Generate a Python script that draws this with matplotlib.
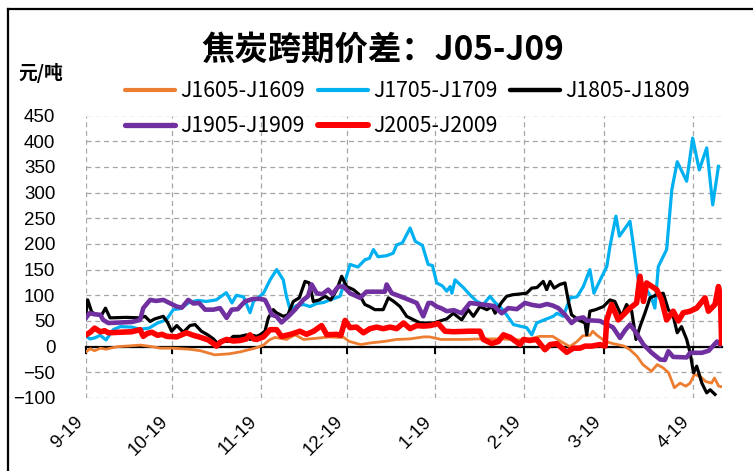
import matplotlib
matplotlib.use("Agg")
import matplotlib.pyplot as plt
import numpy as np
import pandas as pd
from matplotlib.lines import Line2D
from matplotlib.font_manager import FontProperties

# x values are day offsets from 9-19
START = pd.Timestamp("2018-09-19")
END_DAY = 222

tick_labels = ["9-19", "10-19", "11-19", "12-19", "1-19", "2-19", "3-19", "4-19"]
y_ticks = list(range(-100, 451, 50))

j1605_days = [0, 1.5, 3, 5, 7, 11, 14, 19, 23, 26, 30, 36, 40, 45, 50, 54, 59, 62, 64, 66,
              70, 73, 76, 80, 85, 88, 90, 92, 96, 99, 104, 108.5, 113, 118, 120, 124, 131,
              138, 145, 152, 155, 158.5, 163, 166.5, 169, 171.5, 173.5, 176, 177, 178.5,
              181.5, 184, 188, 190, 192.5, 194.5, 197.5, 199.5, 201.5, 203.5, 205.5, 207.5,
              209.5, 211, 212.5, 214.5, 216.5, 218.5, 219.5, 221, 222]
j1605_vals = [-10, -4, -8, -3, -5, 0, 1, 3, 0, -3, -3, -5, -8, -16, -14, -10, -3, 3, 13, 18,
              14, 23, 14, 16, 19, 18, 18, 10, 4, 7, 10, 14, 15, 19, 19, 14, 14,
              15, 15, 13, 15, 20, 20, 8, 0, 10, 21, 22, 30, 22,
              10, 6, 1, -6, -19, -35, -48, -35, -41, -51, -80, -71,
              -77, -71, -54, -58, -68, -71, -61, -77, -78]

j1705_days = [0, 1.5, 3, 5, 7, 9.5, 12, 16, 19, 22, 25, 28, 30.5, 33, 36, 39, 42, 45.5, 49, 51,
              52.5, 55, 57.3, 58.5, 60, 62, 64.3, 66.6, 68.9, 70, 71.3, 73.6, 76, 78.2, 80.6,
              83, 85.2, 88.7, 91, 92.2, 95, 97.4, 99, 100.4, 102, 105, 107.3, 108.5, 110.5,
              113.2, 115, 117.5, 119.5, 121, 122.5, 124.5, 126, 127.2, 127.8, 128.9, 131.8,
              134.1, 136.5, 138.8, 141.1, 143, 144.6, 146.9, 149.3, 151.5, 153.9, 155.7,
              157.4, 160, 163.2, 164.5, 166.7, 169.1, 171.5, 173.7, 176, 177.4, 179, 181.9,
              183, 185.1, 186.3, 190, 191, 192.3, 193.5, 194.7, 195.8, 197.5, 198.7, 199.9,
              202.8, 204.6, 206.5, 209.8, 211.9, 214.2, 216.8, 218.9, 220.9]
j1705_vals = [20, 15, 17, 22, 13, 33, 39, 38, 34, 36, 46, 52, 72, 74, 86, 90, 88, 91, 105, 85,
              100, 97, 66, 88, 95, 104, 130, 150, 130, 98, 72, 80, 82, 78, 84,
              86, 91, 98, 137, 160, 155, 169, 172, 189, 175, 177, 182, 198, 202,
              231, 205, 197, 160, 158, 124, 118, 108, 117, 104, 130, 115,
              101, 88, 82, 98, 85, 78, 62, 43, 40, 37, 23,
              46, 52, 59, 65, 59, 95, 97, 117, 150, 104, 123, 156,
              195, 254, 215, 244, 205, 150, 111, 98, 111, 95, 75, 156,
              189, 305, 360, 322, 406, 344, 387, 276, 351]

j1805_days = [0, 0.6, 2, 4, 5.5, 6.8, 8.4, 14, 18.9, 20.6, 22.4, 24, 27, 28.5, 29.9, 31.7, 34,
              36.3, 38.1, 40.3, 42.5, 44.5, 45.8, 47.5, 49.5, 51.4, 53.8, 56.1, 57.3, 58.4,
              59.5, 60.8, 62.5, 63.7, 65.4, 66.5, 68.9, 70.5, 72.4, 74.5, 76.5, 78, 79.4,
              81.5, 83.5, 85.5, 87.6, 89.3, 91, 93.4, 95.5, 97.4, 99, 100.9, 103.8, 105.6,
              107.5, 109.7, 112, 114.5, 116.7, 121.3, 126, 128.3, 131.2, 133.5, 135.3, 137.6,
              140, 141.8, 142.9, 145, 146.9, 149, 153.9, 155.7, 157.5, 159.7, 160.9, 162.1,
              163.5, 165.5, 167.3, 168.5, 169.6, 172, 174.3, 174.9, 176, 178, 180.7, 183,
              184.7, 187.1, 188.8, 190.6, 192.1, 193.5, 195.2, 197, 199.3, 201.6, 203.4, 205,
              206.5, 208, 209.8, 211, 212.2, 213.3, 215.1, 216.8, 218, 219.7]
j1805_vals = [65, 91, 67, 62, 62, 75, 56, 57, 56, 59, 49, 54, 59, 47, 30, 41, 28,
              41, 43, 30, 23, 15, 7, 12, 10, 20, 20, 23, 14, 22,
              20, 23, 30, 56, 72, 66, 59, 62, 88, 95, 127, 124, 88,
              91, 98, 91, 111, 137, 117, 111, 101, 82, 78, 72, 72, 95,
              88, 78, 59, 52, 46, 46, 54, 65, 52, 72, 59, 78,
              72, 78, 65, 85, 98, 101, 104, 114, 115, 127, 111, 127,
              114, 121, 124, 88, 62, 52, 46, 23, 69, 72, 78, 91,
              88, 59, 82, 69, 14, 39, 65, 95, 101, 104, 72, 62,
              27, 39, 14, -12, -51, -38, -71, -90, -84, -93]

j1905_days = [0, 1.2, 3, 5, 6, 7.8, 12, 16, 18.9, 20, 22.4, 24.5, 27, 29.5, 31.7, 33.5, 35.7,
              37.5, 39.5, 41.6, 44.5, 46.8, 49.1, 50.9, 53, 55.5, 58.4, 60.8, 62.5, 63.7,
              64.9, 66.5, 68.3, 70.7, 73, 75.9, 77.5, 78.8, 80.6, 82.5, 84.6, 86, 88.1, 89.9,
              92.2, 95.7, 98, 102, 104.4, 105, 106.8, 109.7, 112, 115.5, 117.8, 119.6, 120.7,
              122.5, 124, 126, 128.5, 131.2, 134.1, 137, 140, 142.5, 145.2, 147.5, 150.5,
              153.3, 156, 158.5, 161, 163, 165, 167.3, 169.6, 171.3, 173.7, 175, 176.6, 179.5,
              181.9, 184, 186.5, 188.3, 190, 191.8, 194.7, 197.6, 200.5, 202.2, 203.4, 205.1,
              209.8, 211, 215.1, 217.5, 220.4, 221.5]
j1905_vals = [56, 65, 63, 62, 52, 46, 47, 48, 52, 75, 91, 89, 91, 84, 78, 76, 91,
              84, 85, 72, 72, 75, 56, 72, 73, 88, 93, 93, 91, 78,
              62, 59, 47, 59, 72, 91, 98, 121, 104, 102, 111, 102, 117, 117,
              104, 95, 107, 107, 107, 121, 104, 98, 93, 85, 59, 85, 85,
              78, 75, 69, 71, 65, 85, 83, 81, 79, 65, 75, 73,
              85, 81, 79, 83, 80, 75, 62, 46, 54, 57, 50, 51, 50,
              43, 38, 17, 32, 43, 30, 4, -12, -25, -26, -9, -20,
              -21, -12, -12, -8, 10, 4]

j2005_days = [0, 1.5, 3, 5, 6.5, 7.8, 12, 16, 18.9, 20, 21.5, 23, 25, 26.5, 28.2, 31.7, 35.1,
              37.5, 39.5, 42.7, 44.5, 45.6, 47, 49.1, 51.4, 53.8, 56, 57.3, 58.5, 59.6, 62,
              64.3, 66.6, 68.3, 71.5, 74.7, 77, 79.5, 82.3, 84.1, 87.5, 89, 90.5, 92.2, 94.5,
              96.9, 99.2, 101.5, 103.8, 106.2, 108.5, 110.9, 113.2, 115.5, 117.8, 120.2, 123,
              125.4, 128.3, 134, 137.6, 138.8, 141.7, 144, 145.8, 148.2, 151.6, 152.8, 155,
              157.4, 160.3, 162.1, 164.4, 167.9, 170.2, 172.5, 174.3, 176.6, 179.5, 181.3,
              181.9, 183.6, 185.9, 187.7, 190, 192.3, 193.5, 194.7, 195.8, 199.3, 201, 202.8,
              205.1, 206.9, 208.6, 211, 213.3, 216.2, 217.4, 219.7, 220.9, 221.6, 222]
j2005_vals = [23, 28, 36, 29, 31, 27, 28, 29, 33, 20, 26, 28, 22, 24, 20, 19, 27,
              22, 19, 13, 6, 1, 9, 14, 11, 12, 15, 23, 15, 14, 19,
              33, 33, 20, 24, 30, 24, 30, 41, 23, 24, 22, 51, 37, 38,
              27, 35, 38, 35, 38, 35, 46, 35, 41, 40, 41, 45,
              30, 29, 30, 30, 14, 6, 10, 23, 18, 4, 14, 12,
              14, -6, 4, 6, -11, -3, -3, 1, 1, 4, 1,
              52, 82, 52, 62, 75, 85, 137, 88, 124, 111, 92, 52,
              69, 50, 66, 69, 75, 95, 69, 82, 117, 98, 7]

# name, days, values, colour, plot width, legend width
series = [
    ("J1605-J1609", j1605_days, j1605_vals, "#ED7D31", 2.0, 3.0),
    ("J1705-J1709", j1705_days, j1705_vals, "#00B0F0", 2.3, 3.0),
    ("J1805-J1809", j1805_days, j1805_vals, "#000000", 2.3, 3.2),
    ("J1905-J1909", j1905_days, j1905_vals, "#7030A0", 3.3, 3.8),
    ("J2005-J2009", j2005_days, j2005_vals, "#FF0000", 4.0, 4.3),
]


def to_dates(days):
    return (START + pd.to_timedelta(np.asarray(days, dtype=float), unit="D")).to_numpy()


fig = plt.figure(figsize=(7.53, 4.71), dpi=100)
ax = fig.add_axes([86 / 753, 1 - 398 / 471, 635.6 / 753, (398 - 115.5) / 471])

handles = {}
for name, d, v, c, lw, lw_leg in series:
    ax.plot(to_dates(d), v, color=c, linewidth=lw, solid_joinstyle="round")
    handles[name] = Line2D([], [], color=c, linewidth=lw_leg, solid_capstyle="round")

ax.set_xlim(to_dates([0])[0], to_dates([END_DAY])[0])
ax.set_ylim(-100, 450)
ax.set_yticks(y_ticks)
ax.set_yticklabels([f"{t}".replace("-", "\u2212") for t in y_ticks])
month_ticks = pd.date_range(START, periods=len(tick_labels), freq=pd.DateOffset(months=1))
ax.set_xticks(month_ticks.to_numpy())
ax.set_xticklabels(tick_labels)

ax.grid(True, color="#a6a6a6", linestyle=(0, (4, 3)), linewidth=0.9)
ax.set_axisbelow(True)
for s in ("left", "top", "right"):
    ax.spines[s].set_visible(False)
ax.spines["bottom"].set_position(("data", 0))
ax.spines["bottom"].set_linewidth(1.6)
ax.spines["bottom"].set_zorder(1.5)

tick_font = FontProperties(family="Liberation Sans", size=13.5)
ax.tick_params(axis="y", length=0, pad=22)
ax.tick_params(axis="x", length=5, width=1.5, direction="out", pad=43)
for lab in ax.get_yticklabels():
    lab.set_fontproperties(tick_font)
for lab in ax.get_xticklabels():
    lab.set_fontproperties(tick_font)
    lab.set_rotation(45)
    lab.set_ha("right")

# legend rows: J1605 J1705 J1805 / J1905 J2005 (column-major fill)
order = ["J1605-J1609", "J1905-J1909", "J1705-J1709", "J2005-J2009", "J1805-J1809"]
fig.legend([handles[n] for n in order], order, ncol=3, loc="upper left",
           bbox_to_anchor=(125 / 753, 1 - 80 / 471), frameon=False,
           prop=FontProperties(family="Noto Sans CJK SC", size=15.3),
           handlelength=2.35, handletextpad=0.25, columnspacing=0.6,
           labelspacing=0.62, borderpad=0, borderaxespad=0)

fig.text(383 / 753, 1 - 50 / 471, "焦炭跨期价差：J05-J09", ha="center", va="center",
         fontsize=24, fontweight="bold", family=["Noto Sans CJK SC", "DejaVu Sans"])
fig.text(18 / 753, 1 - 73 / 471, "元/吨", ha="left", va="center",
         fontsize=13.5, fontweight="bold", family=["Noto Sans CJK SC", "DejaVu Sans"])

# outer frame (top and left edges visible)
fig.add_artist(Line2D([7.5 / 753, 1], [1 - 9 / 471] * 2, color="black", lw=1.6,
                      transform=fig.transFigure))
fig.add_artist(Line2D([7.5 / 753] * 2, [0, 1 - 9 / 471], color="black", lw=1.6,
                      transform=fig.transFigure))

fig.savefig("out.png", dpi=100)
